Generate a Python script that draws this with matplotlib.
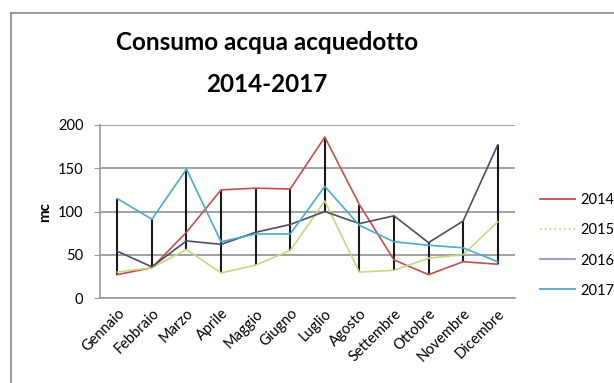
import matplotlib
matplotlib.use("Agg")
import matplotlib.pyplot as plt
from matplotlib.lines import Line2D
import numpy as np

months = ['Gennaio', 'Febbraio', 'Marzo', 'Aprile', 'Maggio', 'Giugno',
          'Luglio', 'Agosto', 'Settembre', 'Ottobre', 'Novembre', 'Dicembre']
years = ['2014', '2015', '2016', '2017']
c2014 = [27, 35, 76, 125, 127, 126, 186, 108, 44, 27, 42, 39]
c2015 = [30, 35, 56, 29, 38, 55, 112, 30, 32, 46, 50, 88]
c2016 = [54, 36, 66, 62, 76, 85, 100, 86, 95, 64, 89, 177]
c2017 = [115, 91, 149, 65, 74, 74, 129, 84, 65, 61, 58, 42]
yticks = [0, 50, 100, 150, 200]

plt.rcParams['font.family'] = ['Lato', 'DejaVu Sans']

fig = plt.figure(figsize=(6.14, 3.83), dpi=100)
ax = fig.add_axes([100/614, 1-298/383, 415/614, 173/383])

x = np.arange(len(months))
data = np.array([c2014, c2015, c2016, c2017])

# high-low lines
ax.vlines(x, data.min(axis=0), data.max(axis=0), color='#1a1a1a', lw=1.5, zorder=2)

line_cols = ['#C0504D', '#C8D682', '#4E4C66', '#4BACC6']
for vals, col in zip(data, line_cols):
    ax.plot(x, vals, color=col, lw=1.2, zorder=3)

ax.set_xlim(-0.5, len(months) - 0.5)
ax.set_ylim(0, 200)
ax.set_yticks(yticks)
ax.yaxis.grid(True, color='#9a9a9a', lw=1.3)
ax.set_axisbelow(True)
for s in ['top', 'right']:
    ax.spines[s].set_visible(False)
ax.spines['left'].set_color('#999999')
ax.spines['bottom'].set_color('#999999')
ax.spines['left'].set_linewidth(1.2)
ax.spines['bottom'].set_linewidth(1.2)
ax.tick_params(axis='y', length=4, color='#999999', labelsize=10.5, pad=8)
ax.set_xticks(x)
ax.set_xticklabels(months, rotation=45, ha='right', rotation_mode='anchor', fontsize=10.5)
ax.tick_params(axis='x', length=0, pad=6)

ax.set_ylabel('mc', fontsize=11, fontweight='bold', labelpad=4)

fig.text(267/614, 1-43/383, 'Consumo acqua acquedotto', ha='center', va='center',
         fontsize=17.5, fontweight='bold')
fig.text(267/614, 1-84/383, '2014-2017', ha='center', va='center',
         fontsize=17.5, fontweight='bold')

leg_cols = ['#C0504D', '#C8D682', '#9E8DC2', '#4BACC6']
handles = [Line2D([0], [0], color=c, lw=1.3) for c in leg_cols]
handles[1].set_linestyle(':')
fig.legend(handles, years, loc='center left', bbox_to_anchor=(540/614, 1-245.5/383),
           frameon=False, fontsize=10.5, borderpad=0, borderaxespad=0,
           handlelength=2.4, handletextpad=0.35, labelspacing=1.1)

# chart area border
fig.add_artist(Line2D([11/614, 11/614], [0, 1-13/383], color='#888888', lw=1.2))
fig.add_artist(Line2D([11/614, 1], [1-13/383, 1-13/383], color='#888888', lw=1.2))

fig.savefig('out.png', dpi=100)
